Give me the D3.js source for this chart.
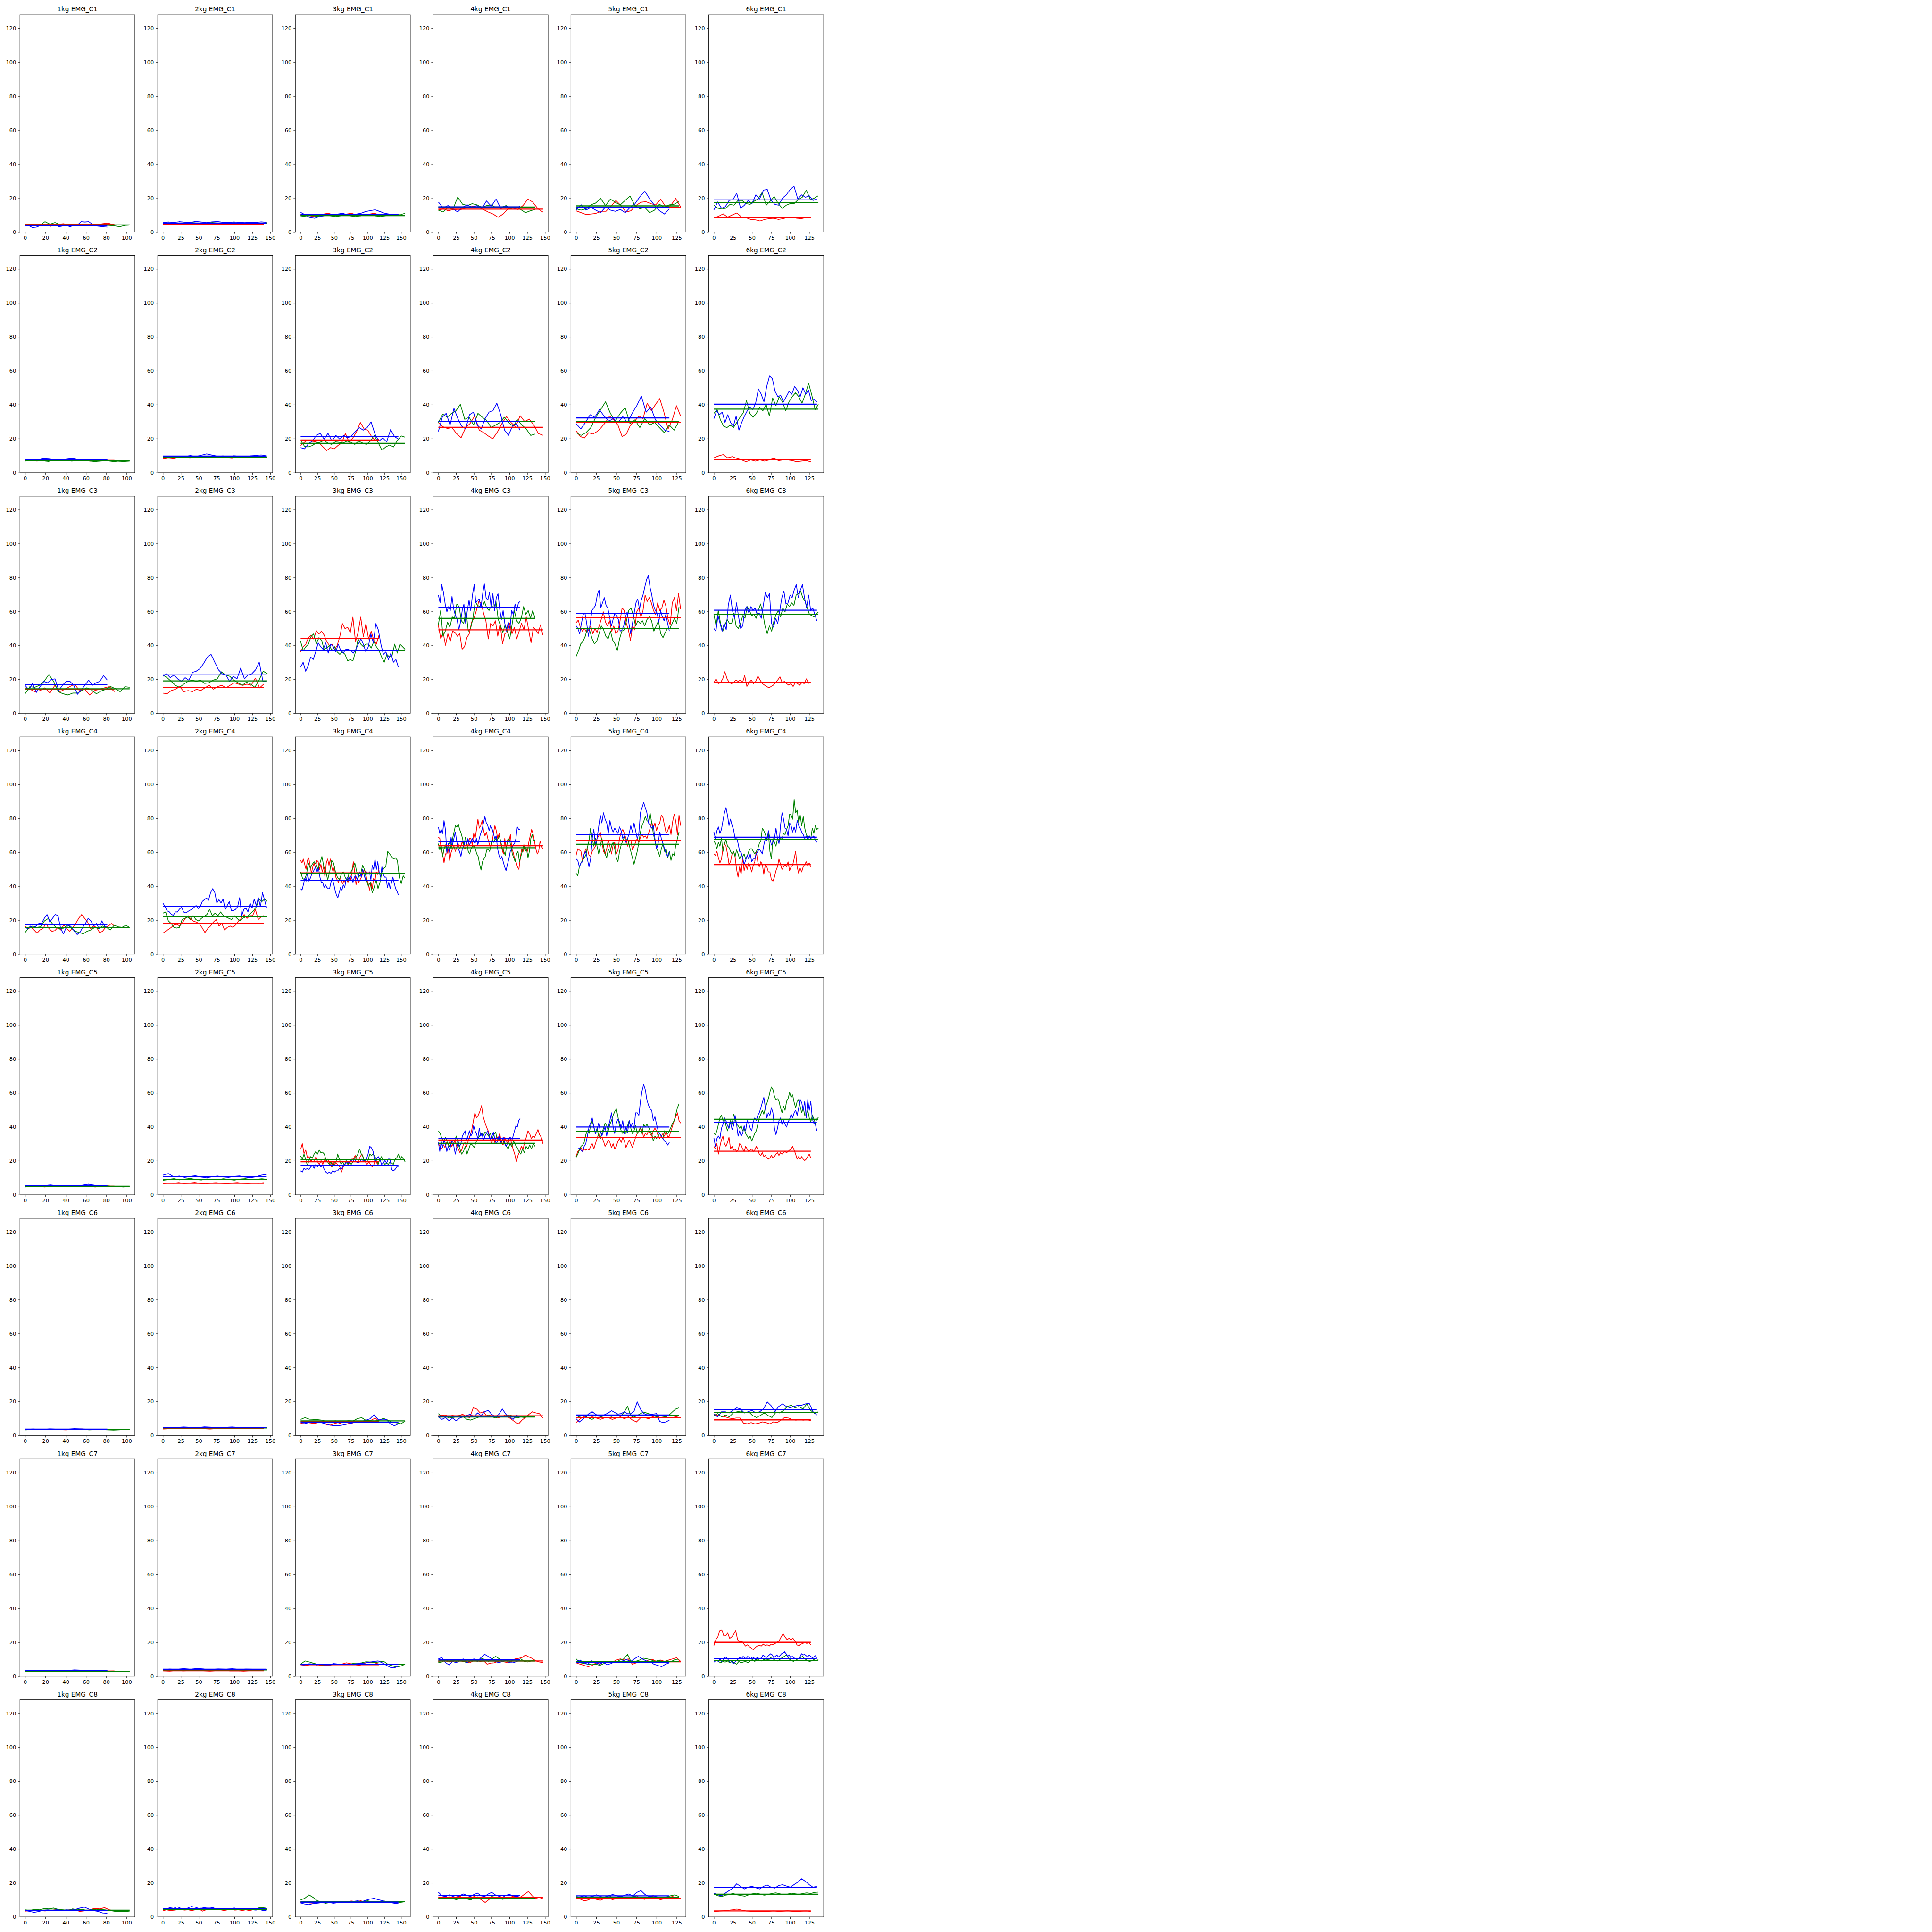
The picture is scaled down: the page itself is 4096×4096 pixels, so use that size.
<!DOCTYPE html>
<html><head><meta charset="utf-8">
<script src="https://cdn.jsdelivr.net/npm/d3@7"></script>
<style>body{margin:0;background:#fff}</style>
</head><body>
<svg id="chart" width="4096" height="4096"></svg>
<script>
// ---------------- labels / ticks ----------------
const kgLabels = ["1kg","2kg","3kg","4kg","5kg","6kg"];
const channelLabels = ["EMG_C1","EMG_C2","EMG_C3","EMG_C4","EMG_C5","EMG_C6","EMG_C7","EMG_C8"];
const yTickValues = [0,20,40,60,80,100,120];
const xTicks1kg = [0,20,40,60,80,100];
const xTicks150 = [0,25,50,75,100,125,150];
const xTicks125 = [0,25,50,75,100,125];
// series lengths (last sample index) per weight column
const lenRed   = [88,141,117,147,130,127];
const lenGreen = [103,146,156,136,128,137];
const lenBlue  = [81,145,146,115,116,135];
// mean levels per channel: [ [red,green,blue] for 1kg..6kg ]
const meanC1 = [[4.3,4.1,3.7],[4.6,4.9,5.2],[10.0,9.6,10.4],[13.4,14.6,14.7],[14.4,15.3,14.5],[8.4,17.3,18.8]];
const meanC2 = [[7.2,7.0,7.7],[8.7,9.1,9.7],[19.2,17.2,21.2],[26.7,30.0,30.2],[29.5,30.1,32.2],[7.7,37.4,40.3]];
const meanC3 = [[14.2,14.4,16.9],[15.2,19.1,22.6],[44.2,37.1,37.1],[49.2,56.0,62.5],[56.3,50.0,58.8],[18.1,58.2,60.8]];
const meanC4 = [[15.6,15.7,17.2],[18.2,22.1,28.0],[47.8,47.5,43.4],[63.8,62.6,66.1],[67.0,64.7,70.4],[52.7,67.5,68.9]];
const meanC5 = [[5.0,5.0,5.4],[6.8,9.1,10.8],[19.4,20.6,17.5],[32.3,30.3,33.1],[33.7,37.4,39.9],[25.7,44.5,42.6]];
const meanC6 = [[3.5,3.45,3.7],[4.0,4.45,4.8],[8.4,8.6,7.8],[11.6,10.9,11.4],[10.4,11.7,12.1],[9.2,13.5,15.3]];
const meanC7 = [[3.0,2.95,3.4],[3.2,3.7,4.1],[6.8,7.1,7.0],[9.0,9.0,9.6],[8.5,8.7,8.1],[20.0,9.2,10.3]];
const meanC8 = [[3.9,3.95,3.8],[4.2,4.5,4.9],[8.8,9.1,8.7],[11.5,11.1,12.7],[11.0,11.6,12.4],[3.5,13.4,17.3]];

// ---------------- series (evenly spread from 0 to series length) ----------------
// C1
const c1_1r=[4.2,4.4,4.0,4.2,3.3,4.4,4.8,4.0,4.4,4.3,4.2,4.4,4.7,5.2,3.8];
const c1_1g=[4.0,4.5,4.5,4.0,6.0,4.5,5.5,4.3,3.8,3.5,4.5,4.0,3.5,3.8,4.2,4.3,4.0,3.8,3.5,3.0,3.8,4.0];
const c1_1b=[3.8,3.6,2.5,2.8,3.6,4.5,3.8,4.4,4.4,3.0,3.4,4.0,3.0,3.8,4.0,6.0,5.8,6.0,4.5,3.5,3.2,3.0,2.8];
const c1_2r=[4.8,4.5,5.0,4.6,4.4,4.9,5.2,4.7,4.5,4.8,5.0,4.6,4.4,4.7,5.0,4.8,4.6,4.5,4.8,4.9];
const c1_2g=[5.0,5.3,5.1,4.9,5.4,5.6,5.2,5.0,5.3,5.5,5.1,4.9,5.2,5.4,5.0,5.1,5.3,5.0,5.2,5.4];
const c1_2b=[5.4,5.8,5.5,6.0,5.7,5.5,6.2,5.8,5.4,5.9,6.1,5.6,5.5,5.8,5.6,5.4,5.7,5.5,5.9,5.6];
const c1_3r=[10,10.5,9.5,9,9.5,10.5,11,10,9.5,10,10.5,11,10,9.5,10,10.5,11,10];
const c1_3g=[9.5,9,8.5,9,9.5,10,9.5,9,9.5,10,9.5,9,9.5,10,10.5,9.5,9,9.5,10,10.5,10,11];
const c1_3b=[11.5,10,8.5,8,9,9.5,10,9.5,10.5,11,10,9.5,10.5,11,12,12.5,13,12,11,10.5,10,10.5];
const c1_4r=[12.8,13.6,12.4,13.2,12.8,13.6,14.4,15.1,14.4,13.2,11.7,10.5,8.6,10.5,13.6,14.0,13.2,15.5,19.3,17.4,13.6,11.7];
const c1_4g=[12.8,11.7,14.4,13.2,20.5,16.3,15.5,16.6,15.9,14.4,15.5,15.9,14.0,14.4,15.5,13.6,14.7,13.2,11.3,12.4,13.2];
const c1_4b=[17.6,14.0,15.5,13.6,11.7,14.4,15.9,14.4,15.5,13.6,18.2,15.1,19.3,13.6,15.1,14.4,13.6,15.1];
const c1_5r=[12.4,11.3,10.2,10.5,10.9,12.1,12.1,15.1,18.5,15.5,11.7,12.4,15.5,17.4,17.8,16.6,15.9,19.3,14.7,15.5,19.7,14.7];
const c1_5g=[13.6,12.8,13.6,15.9,17.0,19.7,15.5,19.3,17.4,15.9,18.5,21.1,15.5,13.6,14.4,11.3,12.8,16.3,14.4,15.9,16.3,17.8];
const c1_5b=[12.8,16.0,12.8,14.4,12.8,11.3,14.7,12.8,12.1,13.2,11.3,14.4,16.6,20.8,23.9,19.3,15.5,12.4,10.5,13.6];
const c1_6r=[8.3,9.2,10.6,8.7,10.0,11.1,8.7,8.3,7.3,7.1,6.4,7.3,7.8,8.0,7.3,7.8,8.5,8.5,8.0,7.8,8.5,8.3];
const c1_6g=[15.7,13.9,13.4,13.9,16.2,15.7,18.5,18.5,16.7,16.2,18.0,19.4,23.2,15.7,18.0,20.8,16.7,13.9,15.7,16.7,16.7,19.0,20.4,24.6,19.0,19.9,21.3];
const c1_6b=[12.9,17.6,13.9,14.8,18.5,19.0,22.7,13.9,15.7,18.5,16.7,21.8,19.4,24.6,25,18.5,16.2,15.7,19.9,21.8,25,26.9,19.4,21.8,20.4,21.3,18.5,19.4];
// C2
const c2_1r=[7.0,7.3,6.8,7.5,7.8,7.2,6.9,7.4,7.8,7.3,7.0,6.8,7.2,7.5,7.1,6.9];
const c2_1g=[6.8,7.2,7.5,7.0,6.6,7.4,7.8,7.2,6.8,7.0,7.3,6.9,6.5,6.8,7.1,6.6,6.3,6.5,6.8];
const c2_1b=[7.5,7.8,7.2,8.2,8.0,7.6,7.3,7.9,8.3,7.7,7.4,7.8,7.5,7.2,7.6];
const c2_2r=[8.0,8.5,8.2,8.8,9.0,8.5,8.7,9.2,8.9,8.6,8.8,9.0,8.7,8.4,8.9,9.1,8.8,8.6,9.0,8.8];
const c2_2g=[8.5,8.8,9.2,8.9,9.5,9.1,8.8,9.3,9.6,9.0,8.7,9.2,9.5,9.1,8.9,9.3,9.0,9.4,9.7,9.2];
const c2_2b=[8.8,9.3,9.0,9.6,9.4,10.0,9.5,10.2,11.0,10.3,9.6,9.8,9.4,9.9,9.6,9.3,9.8,10.1,10.4,9.8];
const c2_3r=[15.9,17.8,19.3,18.5,18.1,17.4,15.1,13.0,14.7,14.0,15.9,17.4,23.0,17.8,20.4,24.2,29.5,25.7,25.0,21.2,18.9,19.7];
const c2_3g=[18.9,15.5,15.1,15.9,17.4,17.8,18.9,17.4,16.6,18.1,17.8,17.4,18.5,17.8,16.6,18.5,17.4,16.6,18.5,21.9,17.8,13.2,15.1,16.2,15.1,18.9,21.6,20.8];
const c2_3b=[14.7,14.0,17.0,18.5,21.9,23.1,19.7,23.1,18.5,21.9,19.7,21.9,20.4,21.6,24.2,26.5,25.0,26.5,29.9,22.7,18.5,20.4,18.1,25.4,21.2,19.7];
const c2_4r=[29.5,27.0,26.0,26.5,23.0,20.5,26.5,29.0,33.5,25.0,23.5,21.5,20.0,24.0,29.0,33.0,29.5,27.0,33.5,30.0,31.5,28.0,23.0,22.0];
const c2_4g=[29.5,34.5,32.6,34.9,36.4,40.2,31.4,32.6,28.0,34.9,32.6,30.7,26.5,28.0,29.5,32.6,29.5,27.3,31.1,28.0,25.7,21.9,22.7];
const c2_4b=[24.2,32.6,34.9,28.0,37.9,31.8,27.3,25.7,34.1,35.6,28.0,25.7,31.8,35.6,36.4,40.9,34.1,25.0,21.9,27.3,28.8,25.0];
const c2_5r=[24.6,21.2,20.4,23.5,22.7,24.2,26.5,29.5,33.3,31.1,28.0,21.2,22.7,28.0,30.3,33.3,31.8,40.9,36.4,40.2,43.6,35.6,25.7,31.1,39.4,33.3];
const c2_5g=[23.5,21.9,23.5,26.5,32.6,37.1,41.7,34.9,30.3,34.9,38.3,28.8,31.1,26.5,31.8,28.0,29.5,26.5,23.5,28.0,25.0,30.3];
const c2_5b=[28.8,25.7,29.5,34.1,32.6,37.1,33.3,30.3,31.8,29.5,33.0,29.5,34.9,39.4,45.1,35.6,38.6,31.1,28.0,25.0,24.2];
const c2_6r=[8.7,9.8,10.6,8.7,9.4,8.3,7.5,6.4,7.5,6.8,7.5,6.8,7.5,8.3,7.1,7.5,7.5,7.1,6.4,6.8,7.1,6.4];
const c2_6g=[34.9,37.1,31.1,27.3,26.5,28.0,26.5,29.5,32.6,35.2,42.4,34.9,32.6,34.9,38.6,36.4,40.2,33.3,44.0,39.4,44.7,41.7,36.4,41.7,44.7,47.0,44.7,40.9,46.2,52.7,45.5,37.1,40.2];
const c2_6b=[31.8,36.4,34.1,35.6,29.5,34.1,29.5,27.3,33.3,25.0,29.5,33.3,36.4,38.6,37.1,40.9,49.3,46.2,41.7,50.8,56.9,55.4,47.8,44.7,45.5,41.7,44.7,47.8,46.2,50.8,48.5,44.7,50.0,46.2,48.5,42.4,43.2,41.7];
// C3
const c3_1r=[15.0,14.2,12.7,13.4,15.0,11.9,16.5,12.7,14.2,15.7,17.2,13.1,14.2,10.8,13.4,14.2,15.0,15.7,12.7];
const c3_1g=[11.5,15.7,15.3,16.5,18.8,22.9,18.8,12.7,11.5,10.8,11.9,11.9,13.4,15.0,13.7,11.5,13.1,14.2,15.7,14.6,12.7,15.7,15.3];
const c3_1b=[16.5,13.8,17.6,12.3,15.7,18.8,18.0,19.9,20.3,13.4,16.5,18.8,18.8,16.5,11.2,13.8,16.5,19.5,16.5,18.0,18.8,22.2,19.5];
const c3_2r=[11.9,11.5,13.4,14.2,15.7,12.7,13.4,12.7,14.2,13.4,15.0,16.5,14.2,15.7,16.5,15.0,16.5,18.0,17.2,16.5,17.2,16.5,20.7,15.0,17.2];
const c3_2g=[22.6,21.0,18.8,16.5,15.3,17.2,18.8,19.5,18.8,19.5,17.6,18.0,19.5,20.3,24.4,22.6,21.8,19.5,18.0,16.5,18.4,17.2,15.3,19.5,24.8,23.3];
const c3_2b=[21.8,23.3,21.0,22.6,20.3,18.8,21.0,19.5,24.1,24.8,26.3,29.4,33.2,34.7,30.1,25.6,23.3,22.6,18.8,21.8,20.3,26.7,20.3,22.6,23.3,25.6,30.1,18.8,18.8];
const c3_3r=[36.2,39.3,40.8,44.6,46.1,43.8,48.7,46.8,48.4,46.1,42.3,40.0,40.8,37.7,40.0,45.3,52.9,49.9,50.7,47.6,56.7,42.3,47.6,56.7,45.3,52.9,43.8,48.4,43.1,40.8,46.1];
const c3_3g=[42.3,37.0,39.3,40.8,45.3,46.8,40.8,44.6,43.1,37.7,38.5,40.0,37.0,39.3,36.2,34.7,36.2,34.7,30.9,31.7,30.9,36.2,43.8,40.8,39.3,40.8,40.8,38.5,42.3,39.3,37.0,33.2,30.1,34.7,33.2,33.9,40.8,35.5,40.8,39.3,37.7];
const c3_3b=[27.1,30.1,24.8,27.9,33.2,31.7,36.2,41.5,39.3,37.7,41.5,35.5,40.8,39.3,36.2,40.8,37.0,35.5,37.7,37.7,37.0,35.5,37.7,40.8,43.8,40.8,36.2,39.3,46.8,41.5,52.9,49.1,40.8,34.7,36.2,31.7,35.5,30.1,31.7,27.1];
const c3_4r=[51.9,43.9,47.7,40.1,46.9,42.4,48.4,47.7,45.4,46.9,37.8,39.3,44.6,46.9,53.8,56.0,60.6,65.9,65.1,59.1,54.5,43.9,53.0,51.5,54.5,45.4,53.0,40.9,46.9,47.7,53.0,46.9,50.7,43.9,48.4,53.0,49.2,56.8,49.2,41.6,50.7,49.2,46.9,52.2,46.2];
const c3_4g=[52.2,60.6,45.4,48.4,53.8,50.7,56.8,56.0,64.4,62.9,54.5,53.0,60.6,48.4,50.0,56.0,65.9,63.6,62.9,62.1,65.9,62.1,60.6,63.6,62.1,65.9,55.3,51.5,47.7,52.2,48.4,43.9,52.2,60.6,54.5,53.0,56.0,62.9,58.3,60.6,56.0,60.6,56.0];
const c3_4b=[69.7,65.1,75.8,71.2,64.4,59.8,62.9,60.6,68.9,61.4,57.6,55.3,49.2,53.8,60.6,64.4,53.0,60.6,66.7,60.6,69.7,75.8,65.1,66.7,67.4,62.1,70.5,76.2,68.2,66.7,71.2,62.1,70.5,60.6,68.2,70.5,61.4,55.3,60.6,53.0,48.4,53.8,50.0,60.6,58.3,64.4,60.6,65.1,65.9];
const c3_5r=[53.4,54.9,50.7,48.4,50.0,47.7,49.2,51.5,46.9,50.0,47.7,51.5,55.3,59.8,53.8,51.5,54.5,48.4,51.5,46.9,48.4,54.5,62.1,60.6,53.0,49.2,43.1,51.5,49.2,59.8,62.1,56.8,60.6,69.7,65.9,68.2,65.1,60.6,58.3,65.1,60.6,62.1,66.7,62.9,55.3,52.2,65.1,68.2,60.6,70.5,61.4];
const c3_5g=[33.6,36.7,40.9,42.4,45.4,50.7,48.4,43.9,40.9,42.4,46.9,51.5,49.2,45.4,43.9,48.4,43.1,40.9,37.0,43.9,48.4,49.2,54.5,60.6,62.1,57.6,51.5,54.5,53.0,54.5,51.5,55.3,56.8,54.5,48.4,51.5,54.5,46.9,44.6,47.7,50.0,50.0,53.0,56.0,53.0,62.9];
const c3_5b=[51.5,50.0,46.9,53.0,58.3,59.1,53.0,45.4,53.0,60.6,62.1,63.6,69.7,72.7,62.1,65.1,68.2,63.6,62.1,56.8,51.5,55.3,59.1,57.6,55.3,48.4,49.2,51.5,56.8,59.8,53.0,46.9,53.0,59.1,65.1,67.4,61.4,66.7,69.7,74.3,78.8,81.1,74.3,69.7,63.6,60.6,59.1,53.8,60.6,56.8,54.5,58.3,53.0,48.4];
const c3_6r=[18.1,20.3,17.5,18.1,20.3,24.5,20.3,18.1,17.5,18.1,19.6,18.8,19.6,18.1,22.2,15.8,18.1,19.6,17.5,18.8,21.9,19.6,17.5,16.6,15.8,15.0,15.8,16.6,18.1,19.6,21.5,18.1,18.8,17.5,16.6,17.5,15.8,18.1,17.5,16.6,18.1,17.5,20.3,17.7,18.1];
const c3_6g=[58.3,51.5,60.6,53.0,48.4,52.2,55.3,53.0,53.0,59.1,51.5,50.0,53.0,57.6,56.0,62.9,60.6,57.6,58.3,56.0,60.6,64.4,59.1,51.5,46.9,51.5,48.4,54.5,58.3,60.6,56.8,62.1,59.8,64.4,62.9,65.1,63.6,69.7,70.5,72.1,68.2,66.0,62.1,58.3,57.6,56.8,58.3,59.8];
const c3_6b=[50.0,48.4,57.6,53.0,48.4,53.0,49.2,63.6,69.7,60.6,56.0,65.1,56.8,50.0,51.5,60.6,62.9,59.1,62.9,60.6,62.1,58.3,59.1,56.0,63.6,71.2,68.2,70.5,53.0,50.7,56.0,53.0,60.6,68.2,72.1,64.4,65.1,69.7,68.2,72.7,75.8,68.2,72.7,75.8,68.2,62.1,69.7,60.6,62.1,58.3,54.5];
// C4
const c4_1r=[16.5,15.0,15.7,14.2,12.3,14.2,15.0,18.0,15.0,13.4,13.8,15.7,14.2,17.2,15.0,13.4,15.7,18.0,21.0,23.3,21.0,18.8,15.0,16.5,15.7,12.7,13.4,15.7,16.5,18.0,16.5];
const c4_1g=[12.7,15.7,16.5,15.7,16.1,19.5,21.0,18.0,15.7,15.0,15.3,17.2,15.0,13.4,12.7,11.9,13.4,14.2,15.7,15.0,16.5,15.7,14.2,16.9,16.1,15.7,16.9,15.7];
const c4_1b=[15.7,15.0,16.5,15.3,16.5,18.0,18.0,21.0,23.3,18.8,21.0,23.3,22.6,15.0,11.9,15.7,17.2,15.7,13.4,11.5,12.7,15.7,18.0,21.0,19.5,16.5,18.0,15.0,19.5,16.5,15.7];
const c4_2r=[12.3,13.5,14.5,15.7,17.2,17.5,16.5,18.5,21.0,22.6,20.5,19.3,18.8,17.8,15.5,12.7,15.0,16.5,18.8,20.3,16.5,18.0,14.2,15.7,16.5,15.7,17.2,19.5,21.0,23.3,21.0,22.6,22.6,26.3,20.3,21.8,22.6];
const c4_2g=[24.1,24.8,19.5,18.0,15.7,15.3,15.7,20.3,21.0,21.8,20.3,22.6,20.3,19.5,21.0,22.2,23.3,26.3,22.6,24.1,22.6,24.8,22.6,21.8,21.0,20.3,22.6,21.0,19.5,21.0,21.8,22.6,24.1,25.6,27.9,32.4,30.9,32.4,30.9];
const c4_2b=[30.1,28.0,25.5,25.0,23.5,22.8,24.8,24.8,26.5,27.5,24.8,24.3,25.0,25.8,26.3,27.5,28.6,26.8,28.0,31.0,32.0,33.0,31.7,36.2,38.5,36.2,30.1,32.0,30.1,32.4,26.3,28.6,30.9,25.6,25.6,26.3,27.9,33.2,22.6,26.3,27.1,24.8,30.1,27.1,32.4,28.6,33.2,27.9,36.2,31.7,27.1];
const c4_3r=[55.2,53.7,56.0,52.9,49.9,55.2,56.7,52.2,47.6,51.4,53.7,50.6,55.2,54.4,49.9,52.9,48.4,51.4,45.3,53.7,56.0,52.2,56.0,51.4,48.4,51.4,45.3,43.8,42.3,44.6,43.8,41.5,43.0,42.3,43.8,42.3,45.3,43.8,48.4,54.4,48.4,40.8,44.6,42.3,43.8,45.3,47.6,49.9,48.4,43.8,41.5,37.7,42.3,38.5,44.6,43.0,48.4,46.9,50.6];
const c4_3g=[48.4,44.6,43.8,46.9,53.7,50.6,52.9,54.4,52.9,49.9,53.7,57.5,51.4,48.4,43.8,48.4,55.2,53.7,48.4,45.3,43.8,46.9,48.4,45.3,43.0,47.6,48.4,50.6,53.7,48.4,45.3,46.9,52.2,49.9,43.8,40.0,42.3,36.2,39.3,43.8,38.5,42.3,48.4,50.6,51.4,60.5,59.0,57.5,56.0,56.7,55.2,45.3,41.5,46.1,44.6];
const c4_3b=[38.5,37.7,40.8,44.6,43.0,47.6,43.0,44.6,46.9,48.4,49.9,51.4,48.4,50.6,45.3,42.3,42.3,39.3,40.8,39.3,38.5,38.5,42.3,44.6,41.5,37.7,34.7,33.2,36.2,39.3,37.7,40.8,39.3,43.8,45.3,43.8,46.1,45.3,42.3,45.3,46.1,43.8,46.1,48.4,45.3,49.9,46.9,43.8,48.4,46.9,48.4,43.8,52.2,49.9,56.0,49.9,54.4,48.4,45.3,51.4,46.9,45.3,45.3,39.3,42.3,38.5,42.3,45.3,41.5,38.5,37.0,34.7];
const c4_4r=[68.9,68.1,62.0,59.0,53.7,59.0,59.0,62.0,55.2,59.8,62.0,63.6,60.5,62.8,65.1,62.0,63.6,66.6,62.8,62.0,65.1,63.6,68.1,68.1,64.3,71.1,68.1,73.4,79.5,74.2,75.7,78.7,72.7,69.6,71.9,68.1,65.1,62.0,65.8,71.1,75.7,72.7,68.1,71.1,65.8,62.0,59.0,68.1,62.0,67.3,66.6,70.4,62.0,59.8,56.0,54.4,51.4,49.9,56.7,62.0,60.5,64.3,62.0,60.5,65.8,69.6,73.4,71.1,66.6,62.0,59.0,60.5,66.6,63.6,62.0];
const c4_4g=[65.1,61.3,64.3,57.5,62.0,64.3,60.5,64.3,65.8,62.0,68.1,71.9,75.7,74.9,76.5,73.4,71.1,68.1,63.6,68.9,65.8,60.5,59.0,62.0,63.6,63.6,62.0,59.0,57.5,52.9,49.5,54.4,56.0,57.5,61.3,62.0,60.5,63.6,67.3,65.8,68.1,66.6,68.1,69.6,65.8,62.0,60.5,58.2,63.6,68.1,67.3,63.6,59.0,56.7,54.4,59.0,60.5,54.4,57.5,60.5,64.3,60.5,62.0,56.7,60.5,68.1,70.4,66.6,67.3];
const c4_4b=[74.9,71.1,73.4,71.1,78.7,73.4,59.8,65.1,59.8,68.9,64.3,68.1,71.9,66.6,62.0,60.5,57.5,62.0,63.6,66.6,65.1,68.1,64.3,65.8,68.1,66.6,65.1,68.1,64.3,68.1,71.1,73.4,77.3,81.0,77.3,75.7,72.7,75.7,74.2,71.1,68.1,69.6,62.0,58.2,56.0,57.5,54.4,51.4,49.1,52.9,56.0,60.5,62.0,64.3,65.1,68.1,74.9,73.4,73.4];
const c4_5r=[58.2,62.0,61.3,60.5,54.4,59.0,62.0,62.0,58.2,57.5,60.5,62.0,63.6,68.1,69.6,71.9,66.6,60.5,59.0,62.0,67.3,63.6,59.0,64.3,65.8,59.0,61.3,68.1,71.9,73.4,71.1,68.1,63.6,66.6,67.3,61.3,63.6,65.8,68.1,65.8,68.9,70.4,68.9,69.6,68.1,71.1,74.2,78.0,74.2,77.3,72.7,75.7,77.3,81.8,80.3,75.7,71.1,72.7,75.7,70.4,78.0,82.5,78.0,70.4,81.8,75.7];
const c4_5g=[47.6,46.1,51.4,53.7,55.2,56.7,58.2,62.8,66.6,74.2,68.1,63.6,68.1,63.6,59.0,63.6,68.1,63.6,59.0,56.7,62.0,59.8,63.6,65.8,62.0,56.7,54.4,60.5,64.3,66.6,68.9,66.6,68.1,64.3,60.5,56.7,52.9,56.7,60.5,65.8,71.9,75.7,78.0,81.0,78.7,78.0,83.3,77.3,71.1,66.6,62.0,60.5,57.5,62.0,65.1,60.5,62.0,56.7,60.5,55.2,59.0,58.2,64.3,68.1,71.9];
const c4_5b=[56.0,55.2,51.4,53.7,54.4,59.0,60.5,56.0,51.4,56.0,68.1,73.4,64.3,68.1,74.9,81.8,77.3,83.3,79.5,77.3,71.1,78.7,74.2,71.9,74.2,72.7,71.1,74.9,72.7,68.1,69.6,65.8,68.1,71.1,75.7,71.9,77.3,72.7,68.1,71.1,83.3,86.3,89.4,86.3,83.3,77.3,75.7,74.2,75.7,68.1,62.0,65.1,71.9,68.1,65.1,62.0,59.0,57.5,60.5];
const c4_6r=[59.0,58.2,60.5,56.7,53.7,56.0,62.0,65.1,63.6,59.0,52.9,54.4,59.0,60.5,57.5,49.9,45.3,51.4,46.9,56.7,49.1,52.9,49.9,53.7,51.4,48.4,52.2,54.4,60.5,54.4,51.4,54.4,52.9,46.9,52.9,51.4,48.4,48.4,43.8,43.0,45.3,49.1,51.4,56.0,52.9,49.9,51.4,52.9,51.4,54.4,49.1,51.4,52.2,56.0,60.5,51.4,47.6,50.6,48.4,51.4,52.9,54.4,52.2,53.7,51.4];
const c4_6g=[66.6,65.1,62.0,65.8,63.6,68.1,60.5,65.1,67.3,63.6,62.8,60.5,59.0,60.5,57.5,61.3,59.0,56.0,58.2,57.5,59.0,56.0,57.5,60.5,62.0,62.0,60.5,59.0,60.5,62.0,65.1,66.6,74.2,72.7,70.4,68.1,71.1,60.5,56.0,68.1,65.8,63.6,68.1,65.8,68.9,68.1,71.1,70.4,73.4,75.7,82.5,81.8,79.5,90.9,83.3,84.8,77.3,81.8,75.7,81.0,74.2,70.4,68.9,69.6,68.1,74.2,71.1,75.7,73.4,74.2];
const c4_6b=[71.9,68.1,72.7,74.9,71.1,73.4,78.7,83.3,86.3,81.8,75.7,79.5,75.7,73.4,68.1,68.9,65.1,60.5,59.8,56.7,52.9,55.2,58.2,56.0,59.0,54.4,56.0,56.0,59.0,60.5,62.0,60.5,59.0,64.3,68.1,66.6,72.7,68.1,64.3,65.8,68.1,74.2,68.1,65.1,75.7,83.3,79.5,74.2,73.4,69.6,77.3,75.7,71.9,74.9,71.9,78.7,75.7,74.2,71.9,70.4,68.1,69.6,67.3,69.6,68.1,68.9,69.6,67.3,65.8];
// C5
const c5_1r=[5.0,4.8,5.2,4.6,4.9,5.3,5.0,4.7,5.1,5.4,4.9,4.6,5.0,5.2,4.8];
const c5_1g=[4.6,5.0,5.3,4.9,5.2,5.6,5.1,4.8,5.0,5.3,4.9,4.7,5.1,5.4,5.0,4.8,4.6,5.0];
const c5_1b=[5.2,5.5,5.0,5.4,5.8,5.3,5.0,5.5,5.2,5.6,6.2,5.6,5.1,5.4];
const c5_2r=[6.5,7.0,6.8,7.2,6.6,6.9,7.3,6.7,6.4,6.9,7.1,6.8,6.5,6.9,7.2,6.8,6.6,7.0,6.8,7.1];
const c5_2g=[8.5,9.0,9.5,8.8,9.2,9.6,9.0,8.7,9.3,9.1,8.9,9.4,9.0,8.6,9.2,9.5,8.9,9.1,9.4,9.0];
const c5_2b=[11.5,12.5,10.5,11.0,10.2,10.8,11.2,10.4,10.0,10.6,11.0,10.5,10.2,10.8,11.1,10.4,10.0,10.6,11.5,12.0];
const c5_3r=[26.7,30.1,24.3,26.3,21.7,22.5,19.4,21.0,20.2,22.5,19.4,17.9,20.2,17.9,21.0,19.4,21.0,18.7,16.4,19.4,17.9,18.7,17.2,16.4,13.4,16.4,17.9,17.2,17.9,19.4,21.0,21.0,23.2,21.0,20.2,22.5,24.0,21.0,19.4,17.9,19.4,17.9,16.4,17.9,21.0,17.9,19.4];
const c5_3g=[22.9,21.0,24.0,21.0,17.2,20.2,22.5,21.7,24.0,25.5,24.0,26.3,24.8,25.1,24.0,21.0,19.4,17.9,19.4,16.4,18.7,19.4,24.0,21.0,17.9,19.4,17.2,20.2,17.9,19.4,17.9,19.4,21.0,22.5,24.0,27.0,24.0,22.5,19.4,21.0,20.2,24.0,23.2,24.0,22.5,21.0,17.9,21.0,22.5,19.4,17.9,18.7,17.9,19.4,18.7,17.9,21.0,21.7,24.0,21.0,22.5,21.0,19.4];
const c5_3b=[14.1,13.4,15.6,14.9,15.6,14.9,16.4,17.2,15.6,17.9,16.4,17.9,16.4,17.2,14.9,13.4,12.6,13.4,12.6,14.1,13.4,14.1,14.1,15.6,14.9,16.4,17.9,18.7,19.4,18.7,20.2,19.4,21.0,19.4,18.7,19.4,21.0,20.2,19.4,21.0,24.0,28.5,27.7,25.5,19.4,21.0,22.5,21.0,17.9,18.7,20.2,18.7,21.0,21.0,14.9,14.1,14.9,16.4,16.4];
const c5_4r=[30.1,28.5,27.0,29.3,27.8,30.8,29.3,31.6,28.5,30.1,31.6,28.5,27.0,24.8,26.3,29.3,30.8,28.5,31.6,34.6,37.7,42.9,48.3,45.3,46.8,49.1,52.5,46.0,42.9,39.9,37.7,33.9,30.1,33.1,30.8,34.6,33.1,36.1,30.8,29.3,33.9,31.6,30.1,33.9,30.8,27.0,24.0,19.4,23.2,25.5,28.5,27.0,30.8,33.9,37.7,36.1,33.1,34.6,33.9,36.1,38.4,35.4,33.9,30.1];
const c5_4g=[37.7,36.1,33.1,31.6,33.9,30.8,28.5,30.1,32.3,31.6,34.6,30.1,27.0,24.0,25.5,28.5,24.0,27.0,30.1,29.3,27.8,30.8,33.1,34.6,36.1,34.6,36.9,36.1,34.6,36.1,33.1,35.4,36.9,31.6,33.1,30.8,32.3,30.1,28.5,27.0,30.1,28.5,31.6,29.3,27.8,25.5,24.0,27.0,24.8,28.5,27.0,29.3,27.0,30.1,28.5];
const c5_4b=[30.8,25.5,31.6,27.8,32.3,30.1,25.5,28.5,26.3,30.1,32.3,28.5,24.0,27.8,31.6,28.5,30.1,34.6,36.1,37.7,32.3,34.6,37.7,34.6,36.1,40.7,37.7,36.1,33.1,39.2,34.6,36.1,31.6,34.6,36.1,37.7,34.6,31.6,34.6,36.9,33.1,30.1,31.6,34.6,30.8,31.6,33.9,30.8,28.5,30.1,33.1,33.9,31.6,34.6,37.7,40.7,39.9,43.7,44.9];
const c5_5r=[22.5,25.5,26.3,27.8,25.5,27.0,26.3,27.0,26.3,28.5,30.1,27.0,30.1,33.1,36.1,33.1,33.9,31.6,28.5,30.1,32.3,30.8,27.8,30.1,27.0,28.5,31.6,33.1,30.8,33.9,31.6,27.8,30.1,32.3,30.1,27.8,30.8,33.9,36.1,37.7,39.9,37.7,33.9,36.1,35.4,37.7,36.1,34.6,37.7,39.2,37.7,34.6,33.1,34.6,36.1,34.6,37.7,33.9,34.6,37.7,40.7,43.7,46.0,48.3,43.7,42.2];
const c5_5g=[22.1,24.0,26.3,28.5,29.3,30.8,35.4,37.7,36.1,40.7,43.7,39.9,36.1,39.2,34.6,33.1,36.1,39.2,42.2,40.7,37.7,41.5,43.7,46.8,49.1,50.6,46.0,40.7,37.7,36.1,37.7,36.1,40.7,43.7,39.2,36.1,37.7,40.7,36.1,37.7,39.2,36.1,41.5,39.9,41.5,39.9,37.7,36.1,31.6,34.6,33.1,34.6,36.1,34.6,33.1,37.7,36.9,36.1,37.7,39.9,42.2,43.7,47.5,51.3,53.6];
const c5_5b=[27.0,27.0,27.4,26.3,25.5,28.5,30.1,34.6,39.9,42.2,45.3,39.9,36.1,38.4,42.2,37.7,34.6,37.7,39.9,34.6,39.9,43.7,48.3,39.9,36.1,42.2,44.6,42.9,39.2,43.7,36.1,39.9,36.9,43.7,39.9,42.2,39.2,48.3,48.3,46.8,55.1,61.2,65.0,62.0,55.9,52.8,50.6,49.8,43.7,46.0,41.5,37.7,36.1,34.6,33.1,31.6,30.8,29.3,30.8];
const c5_6r=[28.5,27.0,30.1,24.0,28.5,32.3,34.6,30.1,28.5,30.8,33.9,27.0,28.5,26.3,27.0,25.5,26.3,30.1,29.3,27.0,25.5,28.5,27.0,25.5,26.3,27.0,25.5,26.3,28.5,27.0,24.0,23.2,24.8,22.5,23.2,21.7,21.0,21.7,23.2,21.7,22.5,24.0,24.8,23.2,24.8,24.0,24.8,25.5,24.8,25.5,26.3,27.0,28.5,26.3,24.0,21.0,22.5,21.0,22.5,21.0,20.2,21.0,22.5,24.0,21.7];
const c5_6g=[36.1,35.4,37.7,41.5,45.3,46.8,43.7,45.3,40.7,37.7,40.7,43.7,41.5,47.5,45.3,41.5,40.7,39.2,40.7,37.7,39.2,36.1,34.6,33.1,34.6,31.6,33.9,36.1,37.7,41.5,45.3,47.5,49.8,47.5,51.3,53.9,56.6,60.4,63.5,62.0,58.1,55.9,56.6,55.1,51.3,48.3,52.1,49.8,55.1,56.6,60.4,57.4,58.9,54.4,51.3,55.1,55.9,52.1,48.3,51.3,46.8,47.5,49.8,45.3,42.9,46.8,44.6,42.2,44.6,45.6];
const c5_6b=[33.5,28.5,33.1,34.6,33.1,39.2,41.5,45.3,43.7,40.7,39.2,42.9,38.4,40.7,46.8,41.5,34.6,37.7,34.6,36.1,40.7,37.7,43.7,42.2,39.2,37.7,42.9,45.3,43.7,46.8,48.3,51.3,54.4,57.4,51.3,45.3,48.3,46.8,51.3,48.3,39.2,35.4,39.2,43.7,45.3,41.5,43.7,41.5,39.9,42.9,44.6,47.5,45.3,48.3,49.8,46.8,51.3,55.9,54.4,49.8,55.1,45.3,55.9,49.8,55.1,44.6,42.2,41.5,37.7];
// C6
const c6_1r=[3.5,3.6,3.4,3.7,3.5,3.3,3.6,3.8,3.5,3.4,3.6,3.5];
const c6_1g=[3.3,3.5,3.6,3.4,3.7,3.5,3.4,3.6,3.3,3.5,3.4,3.2,3.4,3.5];
const c6_1b=[3.6,3.8,3.5,3.9,3.7,3.6,4.0,3.8,3.6,3.7,3.5];
const c6_2r=[3.8,4.0,4.2,3.9,4.1,4.3,4.0,3.8,4.1,4.2,3.9,4.0,4.2,4.1,3.9,4.0];
const c6_2g=[4.2,4.5,4.3,4.6,4.4,4.2,4.5,4.7,4.4,4.3,4.5,4.6,4.3,4.4,4.6,4.5];
const c6_2b=[4.6,4.9,4.7,5.0,4.8,4.6,5.1,4.9,4.7,4.8,5.0,4.7,4.6,4.9,4.8,4.7];
const c6_3r=[7.2,7.5,7.6,7.3,7.2,7.8,7.6,6.3,6.1,7.0,7.6,6.8,6.5,7.2,7.4,8.4,8.0,8.3,8.7,9.1,10.3,8.4];
const c6_3g=[9.5,10.5,9.6,9.5,9.3,9.0,8.1,8.2,8.6,8.0,8.3,8.7,8.5,9.9,10.5,8.9,8.7,8.5,9.0,10.1,9.1,7.8,7.5,6.9,8.4];
const c6_3b=[6.8,7.0,7.6,7.8,8.2,7.6,7.0,6.2,5.8,5.7,6.0,6.5,7.0,7.6,8.0,8.3,9.0,9.8,12.2,9.5,9.6,9.5,6.9,5.7,6.8];
const c6_4r=[11.0,11.8,12.1,11.0,11.8,11.4,11.8,12.5,11.0,10.6,16.3,15.6,13.3,14.0,11.0,11.8,11.0,10.3,11.0,11.8,11.0,9.5,8.0,6.8,9.1,10.6,12.5,14.0,13.3,12.9,10.3];
const c6_4g=[12.9,11.0,11.4,10.3,10.6,11.0,11.8,11.0,9.5,9.1,9.9,10.6,11.8,11.0,12.1,11.0,10.3,11.4,11.0,11.8,12.1,11.0,10.3,11.0,10.6,11.8,11.0,11.0];
const c6_4b=[11.0,9.5,10.6,8.7,10.3,8.7,10.3,11.0,11.8,12.5,11.0,13.3,11.8,14.0,14.8,12.5,11.0,12.5,15.6,12.5,11.0,9.5,11.8,11.0];
const c6_5r=[7.6,9.8,11.4,10.3,11.0,10.3,9.5,10.3,10.6,9.5,10.3,11.0,9.9,11.0,9.1,8.0,10.3,10.6,9.9,11.0,11.8,10.3,11.0,12.1,11.6,11.0,10.3];
const c6_5g=[10.3,11.2,11.6,11.2,10.2,9.5,10.8,10.6,11.2,11.8,11.8,11.2,12.0,12.3,11.5,14.0,17.1,11.5,10.8,11.8,12.9,13.8,13.2,12.5,11.8,11.0,11.6,11.3,11.0,12.2,14.0,15.6,16.3];
const c6_5b=[9.9,8.0,9.4,11.2,12.9,14.0,12.6,11.3,11.4,12.4,13.3,14.6,13.6,12.6,12.9,14.0,12.8,12.9,14.2,19.8,15.5,13.0,12.2,12.3,12.6,12.9,8.3,7.6,8.0,9.1];
const c6_6r=[12.5,11.8,11.4,11.0,10.3,9.9,10.3,10.3,7.2,6.9,7.6,6.8,7.2,8.0,7.6,6.8,8.0,7.6,9.1,10.6,10.3,9.5,9.1,9.5,9.1,9.5,8.7];
const c6_6g=[11.8,12.9,11.0,12.1,11.0,13.3,14.0,14.4,13.3,14.0,11.8,10.6,11.8,13.3,11.8,10.6,13.6,13.3,14.8,17.1,17.8,16.3,17.1,15.6,18.6,14.8,13.0,14.0];
const c6_6b=[12.5,11.0,14.0,14.0,13.3,14.8,16.3,15.6,13.3,14.0,14.8,13.3,14.0,15.6,19.8,17.6,14.0,17.1,18.6,17.1,16.3,17.1,17.8,17.8,18.6,19.0,14.0,12.1];
// C7
const c7_1r=[3.0,3.2,2.9,3.1,3.3,3.0,2.8,3.1,3.2,2.9,3.0,3.1];
const c7_1g=[2.8,3.0,3.2,3.1,2.9,3.0,3.3,3.1,2.9,2.8,2.7,2.9,3.0,2.8];
const c7_1b=[3.3,3.5,3.2,3.6,3.4,3.3,3.7,3.5,3.4,3.6,3.3];
const c7_2r=[3.2,3.0,3.4,3.1,3.3,3.5,3.2,3.0,3.3,3.4,3.1,3.2,3.0,3.3,3.4,3.2];
const c7_2g=[3.6,3.8,3.7,3.5,3.8,3.9,3.7,3.6,3.8,3.7,3.5,3.7,3.9,3.8,3.6,3.8];
const c7_2b=[3.9,4.2,4.0,4.5,4.1,4.6,4.2,4.0,4.3,4.1,4.4,4.0,4.2,4.1,4.0,4.1];
const c7_3r=[7.1,6.4,7.5,6.4,6.8,7.1,6.8,7.9,7.1,6.4,7.9,8.3,7.1];
const c7_3g=[7.1,9.0,8.4,7.6,6.9,6.6,6.4,6.7,7.1,7.1,6.9,6.8,7.5,7.4,7.9,8.5,8.4,8.0,8.4,8.9,7.1,6.2,5.4,6.0,7.1];
const c7_3b=[6.0,6.6,7.3,7.2,6.6,7.1,6.5,6.2,7.5,7.2,7.1,6.8,7.0,7.1,7.4,7.5,7.9,8.3,8.7,9.0,7.9,6.6,5.2,4.9,6.0];
const c7_4r=[8.7,9.5,9.1,8.4,8.7,9.9,9.5,8.7,8.7,7.9,9.1,9.5,8.7,9.1,7.1,7.7,7.9,8.7,9.1,8.4,7.9,8.7,10.2,10.5,11.0,12.5,11.3,10.4,9.0,8.4,8.0];
const c7_4g=[8.0,8.4,9.8,8.7,9.5,8.7,9.8,8.7,8.0,9.1,9.5,8.7,10.6,9.8,8.7,10.2,11.7,10.2,8.7,9.5,8.7,9.8,9.5,10.2,8.7,8.4,9.1,9.5];
const c7_4b=[10.2,11.0,8.0,6.7,8.7,8.0,9.1,10.2,8.0,9.1,10.2,8.7,11.0,12.9,11.7,10.2,8.7,8.0,8.7,9.5,8.0,7.9,8.7,9.5];
const c7_5r=[7.9,7.1,6.4,5.6,6.4,7.9,7.1,8.7,7.9,8.2,9.5,10.2,9.5,10.2,7.1,7.9,8.7,8.4,9.5,9.9,8.7,9.5,8.7,9.5,10.2,10.9,8.7];
const c7_5g=[10.2,7.9,7.5,7.1,6.8,7.1,6.4,7.5,8.7,7.9,7.9,9.5,10.2,12.8,7.9,8.7,9.5,10.6,10.2,9.5,8.7,9.5,7.9,9.1,8.7,9.8,9.5];
const c7_5b=[8.7,9.5,7.9,7.1,9.1,7.9,7.1,8.2,6.8,7.5,8.7,7.9,9.1,9.8,8.7,10.2,11.7,10.2,9.1,8.7,7.1,6.4,5.6,7.1,7.9];
const c7_6r=[18.1,21.6,23.1,26.9,27.3,23.8,23.8,25.4,22.3,23.1,24.6,26.9,21.6,20.0,20.8,19.3,17.8,18.5,17.4,16.6,15.5,17.0,17.8,18.1,17.8,18.9,18.1,18.5,17.8,18.9,18.5,19.3,20.0,20.8,23.1,25.0,23.1,21.6,22.3,21.6,22.3,20.8,18.5,17.8,18.9,19.3,20.0,19.3,20.0,18.5];
const c7_6g=[9.0,9.4,8.7,7.9,8.7,8.3,9.0,7.9,8.7,7.9,7.1,8.7,7.9,8.4,8.7,7.9,9.0,9.8,8.7,10.2,9.4,9.0,9.8,10.2,9.4,10.9,10.2,9.4,9.0,9.8,10.9,11.7,12.5,10.2,9.4,8.7,9.4,10.2,10.9,11.7,10.2,9.4,8.7,9.0,9.8,9.0,9.8];
const c7_6b=[8.3,9.0,9.4,8.7,10.2,8.7,9.4,10.9,11.3,10.2,8.7,9.4,7.9,7.5,8.7,9.4,10.2,11.3,10.2,11.7,10.9,10.2,11.7,10.9,10.2,11.3,10.9,9.8,10.9,10.6,10.2,10.9,12.5,11.7,10.9,11.7,12.5,13.2,12.5,10.9,11.7,12.5,11.3,12.1,13.2,13.6,14.4,13.2,11.7,12.5,10.9,11.7,10.9,10.2,10.6,10.2,11.3,13.2,12.5,12.8,12.1,11.3,12.5,11.7,10.9,11.3,12.1,10.9];
// C8
const c8_1r=[3.4,3.7,4.2,3.7,3.5,3.7,4.2,4.0,3.7,4.2,4.4,3.2,3.6,4.2,5.0,4.7,5.4,4.2,3.4];
const c8_1g=[4.2,3.7,4.5,4.2,4.9,4.7,5.2,4.4,4.2,3.7,4.7,4.2,4.5,3.7,4.2,4.2,4.5,4.0,3.7,3.2,3.2,3.4,3.0];
const c8_1b=[3.8,3.2,2.7,3.2,3.9,4.2,3.7,4.4,3.7,4.2,4.0,4.4,5.2,5.7,4.6,3.7,3.2,2.3,2.1];
const c8_2r=[3.6,4.2,3.7,3.9,4.2,4.4,4.0,4.2,3.7,4.2,4.7,3.4,4.2,4.7,4.2,4.4,4.2,3.7,4.2,4.4,4.0,4.2,3.7,4.2,3.7,4.2,4.4,4.2,4.2];
const c8_2g=[4.2,4.6,4.5,4.4,4.5,4.4,4.3,4.4,4.7,4.5,4.4,4.2,4.5,4.4,4.6,5.6,5.0];
const c8_2b=[5.0,4.7,5.4,5.0,6.0,5.0,4.8,5.2,6.2,5.7,5.0,5.2,5.6,5.7,5.4,4.6,4.7,5.0,4.5,4.9,5.2,4.4,4.2,4.7,4.4,4.2,4.0,4.4,3.7,3.9];
const c8_3r=[8.5,8.8,8.2,8.0,8.6,9.0,8.4,8.8,9.2,8.6,8.9,9.4,9.0,9.5,8.8,9.2,8.7,9.0];
const c8_3g=[10.0,11.0,13.0,11.5,9.5,8.8,8.0,8.5,8.2,8.8,9.0,8.4,8.6,9.0,8.8,9.2,9.5,9.0,8.6,9.0,9.4,8.8,8.5,8.2,8.6,9.0];
const c8_3b=[8.2,7.6,7.2,7.8,8.0,8.4,8.2,8.6,8.0,8.4,8.8,9.0,8.6,9.2,9.5,9.0,9.8,10.5,11.0,10.2,9.6,9.0,8.5,8.0,7.8];
const c8_4r=[11.5,11.0,12.0,11.2,10.5,11.8,12.2,11.0,10.8,11.5,12.0,11.3,10.0,8.5,10.2,11.5,11.0,12.0,11.5,10.8,11.6,12.4,11.0,12.0,13.5,15.0,12.5,11.0,10.5,11.2];
const c8_4g=[11.0,10.5,11.2,11.8,10.8,10.2,11.0,11.5,10.6,10.0,11.2,11.8,11.0,10.5,11.3,12.0,11.5,10.8,10.4,11.2,11.6,11.0,10.5,11.0,11.4,10.8,11.2,11.0];
const c8_4b=[14.5,12.5,12.0,13.0,12.2,11.5,12.6,13.5,12.8,12.0,13.2,14.0,12.5,12.0,13.5,14.5,13.0,12.2,11.5,12.8,13.2,12.5,12.0,12.6];
const c8_5r=[11.0,10.5,9.5,10.0,11.2,10.4,9.8,10.8,11.5,10.2,10.8,12.0,11.2,10.5,11.5,12.5,11.0,10.4,11.2,12.2,11.0,10.2,10.8,11.5,12.0,11.2,10.8];
const c8_5g=[12.0,11.5,10.8,11.5,12.2,11.0,10.5,11.8,12.5,11.2,11.8,12.0,11.0,11.5,12.2,11.6,10.8,11.4,12.0,11.5,10.8,11.2,11.8,12.5,13.0,12.0];
const c8_5b=[11.0,11.8,12.5,11.5,12.2,13.0,12.0,11.5,12.4,13.2,12.5,11.8,12.8,13.5,12.4,14.5,15.5,13.2,12.0,12.5,11.8,11.0,10.5,11.2];
const c8_6r=[3.2,3.4,3.6,3.8,4.2,4.6,4.0,3.5,3.3,3.2,3.4,3.1,3.3,3.5,3.2,3.4,3.6,3.3,3.1,3.4,3.5,3.2];
const c8_6g=[13.5,12.5,12.0,12.8,13.2,13.8,13.0,12.6,12.2,13.0,13.6,14.0,13.4,12.8,13.2,13.8,14.2,13.6,13.0,13.4,14.0,13.6,13.2,13.8,14.2,13.8,14.4,14.6];
const c8_6b=[14.0,13.0,12.5,14.0,15.5,17.0,19.5,18.0,16.5,17.5,18.0,17.2,16.5,18.0,18.8,17.5,17.0,18.5,19.0,18.2,17.5,19.0,20.5,22.5,21.0,19.0,17.5,18.0];

// ---------------- table built from the arrays ----------------
const rowsData = [
  [[c1_1r,c1_1g,c1_1b],[c1_2r,c1_2g,c1_2b],[c1_3r,c1_3g,c1_3b],[c1_4r,c1_4g,c1_4b],[c1_5r,c1_5g,c1_5b],[c1_6r,c1_6g,c1_6b]],
  [[c2_1r,c2_1g,c2_1b],[c2_2r,c2_2g,c2_2b],[c2_3r,c2_3g,c2_3b],[c2_4r,c2_4g,c2_4b],[c2_5r,c2_5g,c2_5b],[c2_6r,c2_6g,c2_6b]],
  [[c3_1r,c3_1g,c3_1b],[c3_2r,c3_2g,c3_2b],[c3_3r,c3_3g,c3_3b],[c3_4r,c3_4g,c3_4b],[c3_5r,c3_5g,c3_5b],[c3_6r,c3_6g,c3_6b]],
  [[c4_1r,c4_1g,c4_1b],[c4_2r,c4_2g,c4_2b],[c4_3r,c4_3g,c4_3b],[c4_4r,c4_4g,c4_4b],[c4_5r,c4_5g,c4_5b],[c4_6r,c4_6g,c4_6b]],
  [[c5_1r,c5_1g,c5_1b],[c5_2r,c5_2g,c5_2b],[c5_3r,c5_3g,c5_3b],[c5_4r,c5_4g,c5_4b],[c5_5r,c5_5g,c5_5b],[c5_6r,c5_6g,c5_6b]],
  [[c6_1r,c6_1g,c6_1b],[c6_2r,c6_2g,c6_2b],[c6_3r,c6_3g,c6_3b],[c6_4r,c6_4g,c6_4b],[c6_5r,c6_5g,c6_5b],[c6_6r,c6_6g,c6_6b]],
  [[c7_1r,c7_1g,c7_1b],[c7_2r,c7_2g,c7_2b],[c7_3r,c7_3g,c7_3b],[c7_4r,c7_4g,c7_4b],[c7_5r,c7_5g,c7_5b],[c7_6r,c7_6g,c7_6b]],
  [[c8_1r,c8_1g,c8_1b],[c8_2r,c8_2g,c8_2b],[c8_3r,c8_3g,c8_3b],[c8_4r,c8_4g,c8_4b],[c8_5r,c8_5g,c8_5b],[c8_6r,c8_6g,c8_6b]]
];
const rowsMeans = [meanC1,meanC2,meanC3,meanC4,meanC5,meanC6,meanC7,meanC8];
const xTicksByCol = [xTicks1kg,xTicks150,xTicks150,xTicks150,xTicks125,xTicks125];

// ---------------- drawing ----------------
const SCALE = 4096/5000;
const FONT = "'DejaVu Sans', sans-serif";
const colors = ["#ff0000","#008000","#0000ff"];
const PW = 297.5, PH = 562;
const colLeft = c => 51.5 + 356.5*c;
const rowTop = r => 38 + 623*r;
const TICK = 4.86, PAD = 4.86;

const svg = d3.select("#chart");
svg.append("rect").attr("width",4096).attr("height",4096).attr("fill","#fff");
const root = svg.append("g").attr("transform",`scale(${SCALE})`);

rowsData.forEach((row, r) => {
  row.forEach((trio, c) => {
    const lens = [lenRed[c], lenGreen[c], lenBlue[c]];
    const M = d3.max(lens);
    const x = d3.scaleLinear().domain([-0.05*M, 1.05*M]).range([0, PW]);
    const y = d3.scaleLinear().domain([0, 128]).range([PH, 0]);
    const g = root.append("g").attr("transform", `translate(${colLeft(c)},${rowTop(r)})`);

    const line = d3.line().x(d => x(d[0])).y(d => y(d[1]));
    trio.forEach((vals, k) => {
      const n = vals.length;
      const pts = vals.map((v, i) => [lens[k] * i / (n - 1), v]);
      g.append("path").attr("d", line(pts)).attr("fill","none")
        .attr("stroke", colors[k]).attr("stroke-width", 2.0)
        .attr("stroke-linejoin","round");
    });
    rowsMeans[r][c].forEach((m, k) => {
      g.append("line").attr("x1", x(0)).attr("x2", x(lens[k]))
        .attr("y1", y(m)).attr("y2", y(m))
        .attr("stroke", colors[k]).attr("stroke-width", 2.8);
    });

    const ax = g.append("g").attr("transform", `translate(0,${PH})`)
      .call(d3.axisBottom(x).tickValues(xTicksByCol[c]).tickSize(TICK).tickPadding(PAD).tickFormat(d3.format("d")));
    const ay = g.append("g")
      .call(d3.axisLeft(y).tickValues(yTickValues).tickSize(TICK).tickPadding(PAD).tickFormat(d3.format("d")));
    [ax, ay].forEach(a => {
      a.select(".domain").remove();
      a.attr("font-family", FONT).attr("font-size", 13.89);
      a.selectAll("line").attr("stroke","#000").attr("stroke-width",1.1);
      a.selectAll("text").attr("fill","#000");
    });

    g.append("rect").attr("x",0).attr("y",0).attr("width",PW).attr("height",PH)
      .attr("fill","none").attr("stroke","#000").attr("stroke-width",1.1);

    g.append("text").attr("x", PW/2).attr("y", -8.3)
      .attr("text-anchor","middle").attr("font-family", FONT).attr("font-size", 16.67)
      .attr("fill","#000").text(`${kgLabels[c]} ${channelLabels[r]}`);
  });
});
</script>
</body></html>
